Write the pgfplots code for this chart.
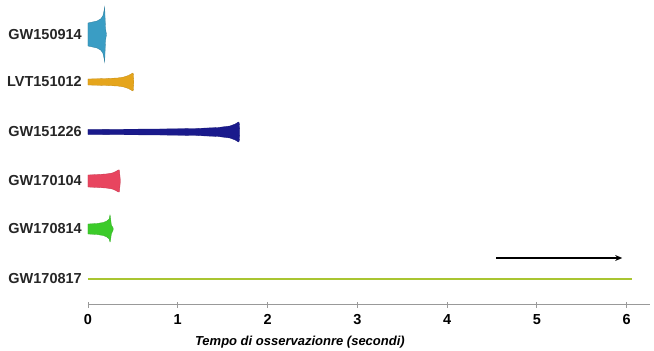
\documentclass[border=0pt]{standalone}
\usepackage{fontspec}
\setmainfont{Liberation Sans}
\usepackage{pgfplots}
\pgfplotsset{compat=1.18}
\usetikzlibrary{arrows.meta}
\definecolor{cA}{HTML}{3A9DC4}
\definecolor{cB}{HTML}{E5A51C}
\definecolor{cC}{HTML}{1A1A8C}
\definecolor{cD}{HTML}{E8455F}
\definecolor{cE}{HTML}{3CCB2A}
\definecolor{cF}{HTML}{A9C531}
\begin{document}
\begin{tikzpicture}
\useasboundingbox (-88pt,-46pt) rectangle (566pt,305pt);
\begin{axis}[
  scale only axis, width=562pt, height=305pt,
  xmin=0, xmax=6.26, ymin=46, ymax=351,
  axis x line*=bottom, axis y line=none,
  x axis line style={draw=gray!80, line width=1pt, -},
  xtick={0,1,2,3,4,5,6},
  tick align=center, major tick length=6pt,
  xtick style={draw=gray!80, line width=0.8pt},
  /pgf/number format/assume math mode=true,
  xticklabel style={font=\fontsize{14.5}{16}\selectfont\bfseries, yshift=-3pt},
  xlabel={Tempo di osservazionre (secondi)},
  xlabel style={font=\fontsize{13}{15}\selectfont\bfseries\itshape, at={(rel axis cs:0.377,0)}, anchor=center, yshift=-37pt},
  clip=false,
]
% GW150914
\addplot[fill=cA, draw=cA!80!black, line width=0.3pt] coordinates {
 (0,328) (0.05,329) (0.1,330) (0.14,332) (0.165,335) (0.178,340) (0.186,344) (0.19,334) (0.196,322) (0.205,317)
 (0.205,316) (0.196,311) (0.19,299) (0.186,289) (0.178,293) (0.165,298) (0.14,301) (0.1,303) (0.05,304) (0,305)} -- cycle;
% LVT151012
\addplot[fill=cB, draw=cB!85!black, line width=0.3pt] coordinates {
 (0,272) (0.2,272.5) (0.33,273) (0.4,274) (0.45,275.5) (0.48,277) (0.5,278) (0.505,277) (0.51,270)
 (0.51,268) (0.505,261) (0.5,260) (0.48,261) (0.45,262.5) (0.4,264) (0.33,265) (0.2,265.5) (0,266)} -- cycle;
% GW151226
\addplot[fill=cC, draw=cC!85!black, line width=0.3pt] coordinates {
 (0,221.5) (0.8,222) (1.2,222.5) (1.45,223.5) (1.58,225) (1.64,227) (1.675,229) (1.685,228) (1.69,221)
 (1.69,217) (1.685,210) (1.675,209) (1.64,211) (1.58,213) (1.45,214.5) (1.2,215.5) (0.8,216) (0,216.5)} -- cycle;
% GW170104
\addplot[fill=cD, draw=cD!85!black, line width=0.3pt] coordinates {
 (0,176) (0.1,176.5) (0.2,177) (0.27,178) (0.31,179.5) (0.335,181) (0.35,181) (0.355,176) (0.36,171)
 (0.36,169) (0.355,164) (0.35,159) (0.335,159) (0.31,160.5) (0.27,162) (0.2,163) (0.1,163.5) (0,164)} -- cycle;
% GW170814
\addplot[fill=cE, draw=cE!85!black, line width=0.3pt] coordinates {
 (0,127) (0.1,127.5) (0.17,128.5) (0.21,130) (0.235,132) (0.245,136) (0.25,134) (0.26,126) (0.28,123)
 (0.28,121) (0.26,117) (0.25,110) (0.245,109) (0.235,112) (0.21,114) (0.17,115.5) (0.1,116.5) (0,117)} -- cycle;
% GW170817
\addplot[draw=cF, line width=2.8pt] coordinates {(0,72) (6.06,72)};
% arrow
\addplot[draw=black, line width=1.6pt, -{Stealth[length=7pt,width=6pt]}] coordinates {(4.55,93) (5.95,93)};
% labels
\begin{scope}[every node/.style={anchor=east, inner sep=0pt, xshift=-6pt, text=black!85, font=\fontsize{14.5}{16}\selectfont\bfseries}]
\node at (axis cs:0,316.5) {GW150914};
\node at (axis cs:0,269) {LVT151012};
\node at (axis cs:0,219) {GW151226};
\node at (axis cs:0,170) {GW170104};
\node at (axis cs:0,122) {GW170814};
\node at (axis cs:0,72) {GW170817};
\end{scope}
\end{axis}
\end{tikzpicture}
\end{document}
